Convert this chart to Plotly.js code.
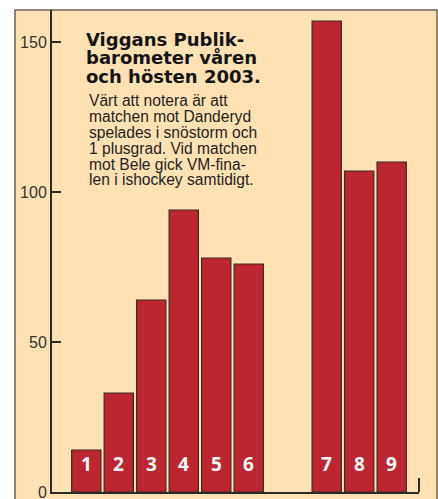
<!DOCTYPE html>
<html>
<head>
<meta charset="utf-8">
<script src="https://cdn.plot.ly/plotly-3.0.1.min.js"></script>
<style>
  html, body { margin: 0; padding: 0; background: #ffffff; }
  #chart { width: 438px; height: 499px; }
</style>
</head>
<body>
<div id="chart"></div>
<script>
// ---- data ----
const matchLabels = ['1', '2', '3', '4', '5', '6', '7', '8', '9'];
const audience = [14, 33, 64, 94, 78, 76, 157, 107, 110];
const yTickVals = [0, 50, 100, 150];
const titleLines = ['Viggans Publik-', 'barometer våren', 'och hösten 2003.'];
const noteLines = [
  'Värt att notera är att',
  'matchen mot Danderyd',
  'spelades i snöstorm och',
  '1 plusgrad. Vid matchen',
  'mot Bele gick VM-fina-',
  'len i ishockey samtidigt.'
];

// ---- layout helpers ----
const W = 438, H = 499;
const M = { l: 52, r: 19, t: 10, b: 7 };
const PW = W - M.l - M.r, PH = H - M.t - M.b;
const px2x = p => (p - M.l) / PW;
const px2y = p => (H - M.b - p) / PH;

// spring (1-6) and autumn (7-9) separated by a wider gap
const xPos = matchLabels.map((_, i) => i + 1 + (i >= 6 ? 1.4 : 0));

const peach = '#FFE1B4';
const barRed = '#BD2530';
const axisCol = '#2b2b2b';

const trace = {
  type: 'bar',
  x: xPos,
  y: audience,
  width: 0.9,
  marker: { color: barRed, line: { color: '#3a2a25', width: 1.2 } },
  hoverinfo: 'skip'
};

const annotations = [];
matchLabels.forEach((lab, i) => {
  annotations.push({
    x: xPos[i], y: 9.2, xref: 'x', yref: 'y',
    text: lab, showarrow: false, xanchor: 'center', yanchor: 'middle',
    font: { family: 'Open Sans', size: 19, color: '#ffffff', weight: 'bold' }
  });
});
const titleBase = [46, 64.5, 83.2];
titleLines.forEach((t, i) => {
  annotations.push({
    x: px2x(85), y: px2y(titleBase[i] - 6.5), xref: 'paper', yref: 'paper',
    text: '<b>' + t + '</b>', showarrow: false, xanchor: 'left', yanchor: 'middle',
    borderpad: 0,
    font: { family: 'DejaVu Sans', size: 18, color: '#141414' }
  });
});
const noteBase = [106, 122, 138, 153.5, 169.5, 185];
noteLines.forEach((t, i) => {
  annotations.push({
    x: px2x(88), y: px2y(noteBase[i] - 5.3), xref: 'paper', yref: 'paper',
    text: t, showarrow: false, xanchor: 'left', yanchor: 'middle',
    borderpad: 0,
    font: { family: 'Liberation Sans', size: 15.6, color: '#1e1e1e' }
  });
});

const layout = {
  width: W, height: H,
  margin: M,
  paper_bgcolor: '#ffffff',
  plot_bgcolor: peach,
  showlegend: false,
  bargap: 0,
  xaxis: {
    range: [-0.055, 11.24],
    showline: true, linecolor: axisCol, linewidth: 2,
    showticklabels: false, ticks: '', showgrid: false, zeroline: false,
    fixedrange: true
  },
  yaxis: {
    range: [0, PH / 3],
    tickvals: yTickVals,
    ticktext: yTickVals.map(String),
    ticks: 'inside', ticklen: 9, tickwidth: 2, tickcolor: axisCol,
    ticklabeloverflow: 'allow',
    showline: true, linecolor: axisCol, linewidth: 2,
    showgrid: false, zeroline: false,
    tickfont: { family: 'Liberation Sans', size: 16, color: '#333333' },
    fixedrange: true
  },
  shapes: [
    {
      type: 'rect', xref: 'paper', yref: 'paper', layer: 'below',
      x0: px2x(15), x1: px2x(437), y0: px2y(510), y1: px2y(10),
      fillcolor: peach, line: { color: '#6e6255', width: 1.5 }
    },
    {
      type: 'line', xref: 'paper', yref: 'paper',
      x0: 1, x1: 1, y0: 0, y1: px2y(478),
      line: { color: axisCol, width: 2 }
    }
  ],
  annotations: annotations
};

Plotly.newPlot('chart', [trace], layout, { displayModeBar: false, staticPlot: true });
</script>
</body>
</html>
